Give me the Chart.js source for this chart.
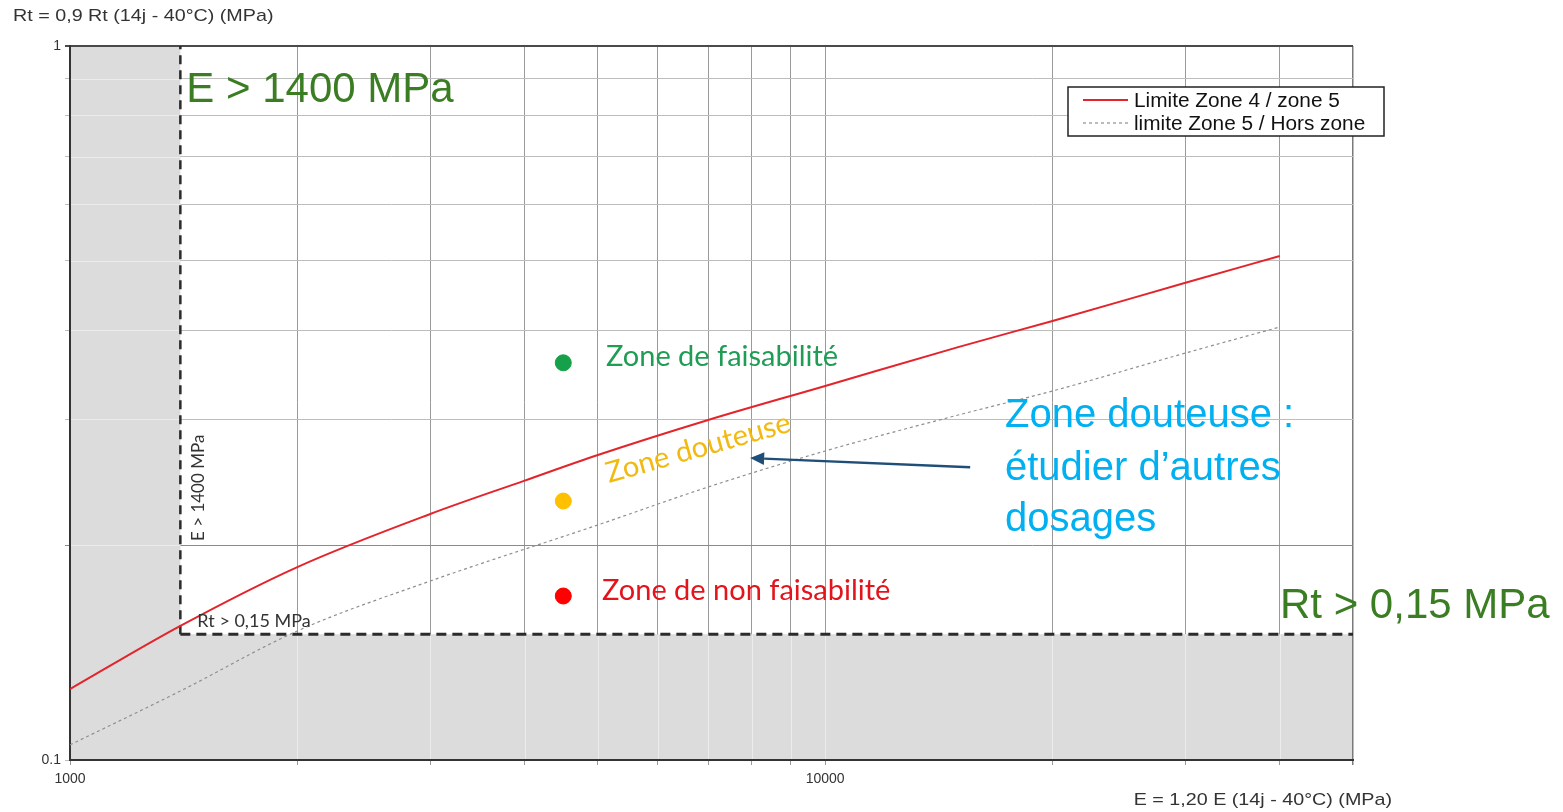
<!DOCTYPE html>
<html>
<head>
<meta charset="utf-8">
<title>Rt / E – zones de faisabilité</title>
<script src="https://cdn.jsdelivr.net/npm/chart.js@4.4.1/dist/chart.umd.min.js"></script>
<style>
  html, body { margin: 0; padding: 0; background: #ffffff; }
  canvas { display: block; }
</style>
</head>
<body>
<canvas id="chart" width="1563" height="812"></canvas>
<script>
// ---- axis ticks (log grid: 1..9 x 10^n) ----
const xTickValues = [1000, 2000, 3000, 4000, 5000, 6000, 7000, 8000, 9000,
                     10000, 20000, 30000, 40000, 50000];
const yTickValues = [0.1, 0.2, 0.3, 0.4, 0.5, 0.6, 0.7, 0.8, 0.9, 1];
const xLabelledTicks = [1000, 10000];
const yLabelledTicks = [0.1, 1];

// ---- limit curves: E (MPa) vs Rt (MPa) ----
const eLimit45  = [1000, 1400, 2000, 3000, 4000, 5000, 7000, 10000, 15000, 20000, 30000, 40000];
const rtLimit45 = [0.1257, 0.1541, 0.1863, 0.2211, 0.2462, 0.2674, 0.2994, 0.3341, 0.3787, 0.412, 0.466, 0.508];

const eLimit5  = [1000, 1400, 2000, 3000, 5000, 7000, 10000, 15000, 20000, 30000, 40000];
const rtLimit5 = [0.105, 0.1249, 0.1516, 0.1781, 0.2134, 0.2412, 0.2709, 0.3042, 0.3287, 0.3715, 0.4041];

// ---- minimum thresholds ----
const eMin = 1400;
const rtMin = 0.15;
const eMax = 50000;
const rtMax = 1;

// ---- example points, one per zone ----
const sampleE  = [4500, 4500, 4500];
const sampleRt = [0.36, 0.2305, 0.1697];
const sampleColors = ['#17a04a', '#ffc000', '#ff0000'];

// ---- arrow to the doubtful band (data units) ----
const arrowFromE = 15560, arrowFromRt = 0.257;
const arrowToE = 7955,   arrowToRt = 0.2648;

const toPoints = (xs, ys) => xs.map((x, i) => ({ x: x, y: ys[i] }));

// white page background
const backgroundPlugin = {
  id: 'background',
  beforeDraw(chart) {
    const ctx = chart.ctx;
    ctx.save();
    ctx.fillStyle = '#ffffff';
    ctx.fillRect(0, 0, chart.width, chart.height);
    ctx.restore();
  }
};

// light grey no-go regions (E < Emin, Rt < Rtmin) with faint grid on top
const zonesPlugin = {
  id: 'zones',
  beforeDatasetsDraw(chart) {
    const { ctx, chartArea: a, scales: { x, y } } = chart;
    const xe = x.getPixelForValue(eMin);
    const yr = y.getPixelForValue(rtMin);
    ctx.save();
    ctx.beginPath();
    ctx.rect(a.left + 1, a.top + 1, xe - a.left - 1, a.bottom - a.top - 2);
    ctx.rect(xe, yr, a.right - xe - 1, a.bottom - yr - 1);
    ctx.clip();
    ctx.fillStyle = '#dcdcdc';
    ctx.fillRect(a.left, a.top, a.right - a.left, a.bottom - a.top);
    ctx.strokeStyle = '#ececec';
    ctx.lineWidth = 1;
    ctx.beginPath();
    xTickValues.forEach(v => {
      const px = Math.round(x.getPixelForValue(v)) + 0.5;
      ctx.moveTo(px, a.top);
      ctx.lineTo(px, a.bottom);
    });
    yTickValues.forEach(v => {
      const py = Math.round(y.getPixelForValue(v)) + 0.5;
      ctx.moveTo(a.left, py);
      ctx.lineTo(a.right, py);
    });
    ctx.stroke();
    ctx.restore();
  }
};

function drawText(ctx, text, x, y, opts) {
  ctx.save();
  ctx.translate(x, y);
  if (opts.angle) ctx.rotate(opts.angle);
  if (opts.hscale) ctx.scale(opts.hscale, 1);
  ctx.font = opts.font;
  ctx.fillStyle = opts.color;
  ctx.textAlign = opts.align || 'left';
  ctx.textBaseline = opts.baseline || 'alphabetic';
  ctx.fillText(text, 0, 0);
  ctx.restore();
}

// titles, legend, zone labels and arrow
const annotationsPlugin = {
  id: 'annotations',
  afterDraw(chart) {
    const { ctx, chartArea: a, scales: { x, y } } = chart;
    const xe = x.getPixelForValue(eMin);
    const yr = y.getPixelForValue(rtMin);

    // axis titles
    drawText(ctx, 'Rt = 0,9 Rt (14j - 40°C) (MPa)', 13, 21,
      { font: '17px "Liberation Sans", Arial, sans-serif', color: '#333333', hscale: 1.16 });
    drawText(ctx, 'E = 1,20 E (14j - 40°C) (MPa)', 1392, 805,
      { font: '17px "Liberation Sans", Arial, sans-serif', color: '#333333', hscale: 1.16, align: 'right' });

    // legend
    const lx = a.right - 285, ly = 87, lw = 316, lh = 49;
    ctx.save();
    ctx.fillStyle = '#ffffff';
    ctx.fillRect(lx, ly, lw, lh);
    ctx.strokeStyle = '#222222';
    ctx.lineWidth = 1.5;
    ctx.strokeRect(lx, ly, lw, lh);
    const rows = [chart.data.datasets[0], chart.data.datasets[1]];
    rows.forEach((ds, i) => {
      const ry = ly + 13 + i * 23;
      ctx.beginPath();
      ctx.setLineDash(ds.borderDash || []);
      ctx.strokeStyle = ds.borderColor;
      ctx.lineWidth = ds.borderWidth;
      ctx.moveTo(lx + 15, ry);
      ctx.lineTo(lx + 60, ry);
      ctx.stroke();
      ctx.setLineDash([]);
      drawText(ctx, ds.label, lx + 66, ry + 1,
        { font: '20px "Liberation Sans", Arial, sans-serif', color: '#111111', baseline: 'middle', hscale: 1.04 });
    });
    ctx.restore();

    // threshold labels next to the dashed limits
    drawText(ctx, 'E > 1400 MPa', xe + 24, 541,
      { font: '17px Lato, "Open Sans", sans-serif', color: '#333333', angle: -Math.PI / 2 });
    drawText(ctx, 'Rt > 0,15 MPa', xe + 17, yr - 7,
      { font: '18px Lato, "Open Sans", sans-serif', color: '#333333' });

    // zone labels
    drawText(ctx, 'Zone de faisabilité', 606, 366,
      { font: '29px Lato, "Open Sans", sans-serif', color: '#1f9d55' });
    drawText(ctx, 'Zone de non faisabilité', 602, 600,
      { font: '29px Lato, "Open Sans", sans-serif', color: '#e3141c' });
    drawText(ctx, 'Zone douteuse', 609, 483,
      { font: '29px Lato, "Open Sans", sans-serif', color: '#f2b90f', angle: -15.8 * Math.PI / 180 });

    // large callouts
    drawText(ctx, 'E > 1400 MPa', xe + 6, 102,
      { font: '42px "Liberation Sans", Arial, sans-serif', color: '#3a7d22' });
    drawText(ctx, 'Rt > 0,15 MPa', 1280, 618,
      { font: '42px "Liberation Sans", Arial, sans-serif', color: '#3a7d22' });
    const blue = { font: '40px "Liberation Sans", Arial, sans-serif', color: '#00b0f0' };
    drawText(ctx, 'Zone douteuse :', 1005, 427, blue);
    drawText(ctx, 'étudier d’autres', 1005, 480, blue);
    drawText(ctx, 'dosages', 1005, 531, blue);

    // arrow
    const x0 = x.getPixelForValue(arrowFromE), y0 = y.getPixelForValue(arrowFromRt);
    const x1 = x.getPixelForValue(arrowToE),   y1 = y.getPixelForValue(arrowToRt);
    const ang = Math.atan2(y1 - y0, x1 - x0);
    const headLen = 14, headHalf = 6.5;
    const bx = x1 - headLen * Math.cos(ang), by = y1 - headLen * Math.sin(ang);
    ctx.save();
    ctx.strokeStyle = '#1f4e79';
    ctx.fillStyle = '#1f4e79';
    ctx.lineWidth = 2.5;
    ctx.beginPath();
    ctx.moveTo(x0, y0);
    ctx.lineTo(bx, by);
    ctx.stroke();
    ctx.beginPath();
    ctx.moveTo(x1, y1);
    ctx.lineTo(bx + headHalf * Math.sin(ang), by - headHalf * Math.cos(ang));
    ctx.lineTo(bx - headHalf * Math.sin(ang), by + headHalf * Math.cos(ang));
    ctx.closePath();
    ctx.fill();
    ctx.restore();
  }
};

const tickFont = { family: '"Liberation Sans", Arial, sans-serif', size: 14 };

new Chart(document.getElementById('chart'), {
  type: 'line',
  data: {
    datasets: [
      {
        label: 'Limite Zone 4 / zone 5',
        data: toPoints(eLimit45, rtLimit45),
        borderColor: '#e3242b',
        borderWidth: 2,
        pointRadius: 0,
        cubicInterpolationMode: 'monotone',
        order: 1
      },
      {
        label: 'limite Zone 5 / Hors zone',
        data: toPoints(eLimit5, rtLimit5),
        borderColor: '#8f8f8f',
        borderWidth: 1.2,
        borderDash: [3, 3],
        pointRadius: 0,
        cubicInterpolationMode: 'monotone',
        order: 2
      },
      {
        label: 'E min',
        data: [{ x: eMin, y: rtMin }, { x: eMin, y: rtMax }],
        borderColor: '#2b2b2b',
        borderWidth: 2.5,
        borderDash: [9, 6],
        pointRadius: 0,
        order: 3
      },
      {
        label: 'Rt min',
        data: [{ x: eMin, y: rtMin }, { x: eMax, y: rtMin }],
        borderColor: '#2b2b2b',
        borderWidth: 3,
        borderDash: [10, 6],
        pointRadius: 0,
        order: 3
      },
      {
        label: 'Exemples',
        type: 'scatter',
        data: toPoints(sampleE, sampleRt),
        pointRadius: 8,
        pointBackgroundColor: sampleColors,
        pointBorderColor: sampleColors,
        pointBorderWidth: 1,
        showLine: false,
        order: 0
      }
    ]
  },
  options: {
    responsive: false,
    animation: false,
    devicePixelRatio: 1,
    layout: { padding: { top: 46, right: 210, left: 0, bottom: 0 } },
    plugins: { legend: { display: false }, tooltip: { enabled: false } },
    scales: {
      x: {
        type: 'logarithmic',
        min: 1000,
        max: eMax,
        afterBuildTicks: s => { s.ticks = xTickValues.map(v => ({ value: v })); },
        afterFit: s => { s.height = 52; },
        ticks: {
          autoSkip: false,
          maxRotation: 0,
          padding: 6,
          font: tickFont,
          color: '#333333',
          callback: v => xLabelledTicks.includes(v) ? String(v) : ''
        },
        grid: {
          color: c => (c.tick && c.tick.value === eMax) ? '#7a7a7a' : '#9a9a9a',
          lineWidth: c => (c.tick && c.tick.value === eMax) ? 1.5 : 1,
          tickLength: 5
        },
        border: { color: '#333333', width: 2 }
      },
      y: {
        type: 'logarithmic',
        min: 0.1,
        max: rtMax,
        afterBuildTicks: s => { s.ticks = yTickValues.map(v => ({ value: v })); },
        afterFit: s => { s.width = 70; },
        ticks: {
          autoSkip: false,
          padding: 4,
          font: tickFont,
          color: '#333333',
          callback: v => yLabelledTicks.includes(v) ? String(v) : ''
        },
        grid: {
          color: c => {
            const v = c.tick && c.tick.value;
            if (v === 1) return '#4a4a4a';
            if (v === 0.2) return '#8a8a8a';
            return '#bdbdbd';
          },
          lineWidth: c => (c.tick && c.tick.value === 1) ? 2 : 1,
          tickLength: 5
        },
        border: { color: '#333333', width: 2 }
      }
    }
  },
  plugins: [backgroundPlugin, zonesPlugin, annotationsPlugin]
});
</script>
</body>
</html>
